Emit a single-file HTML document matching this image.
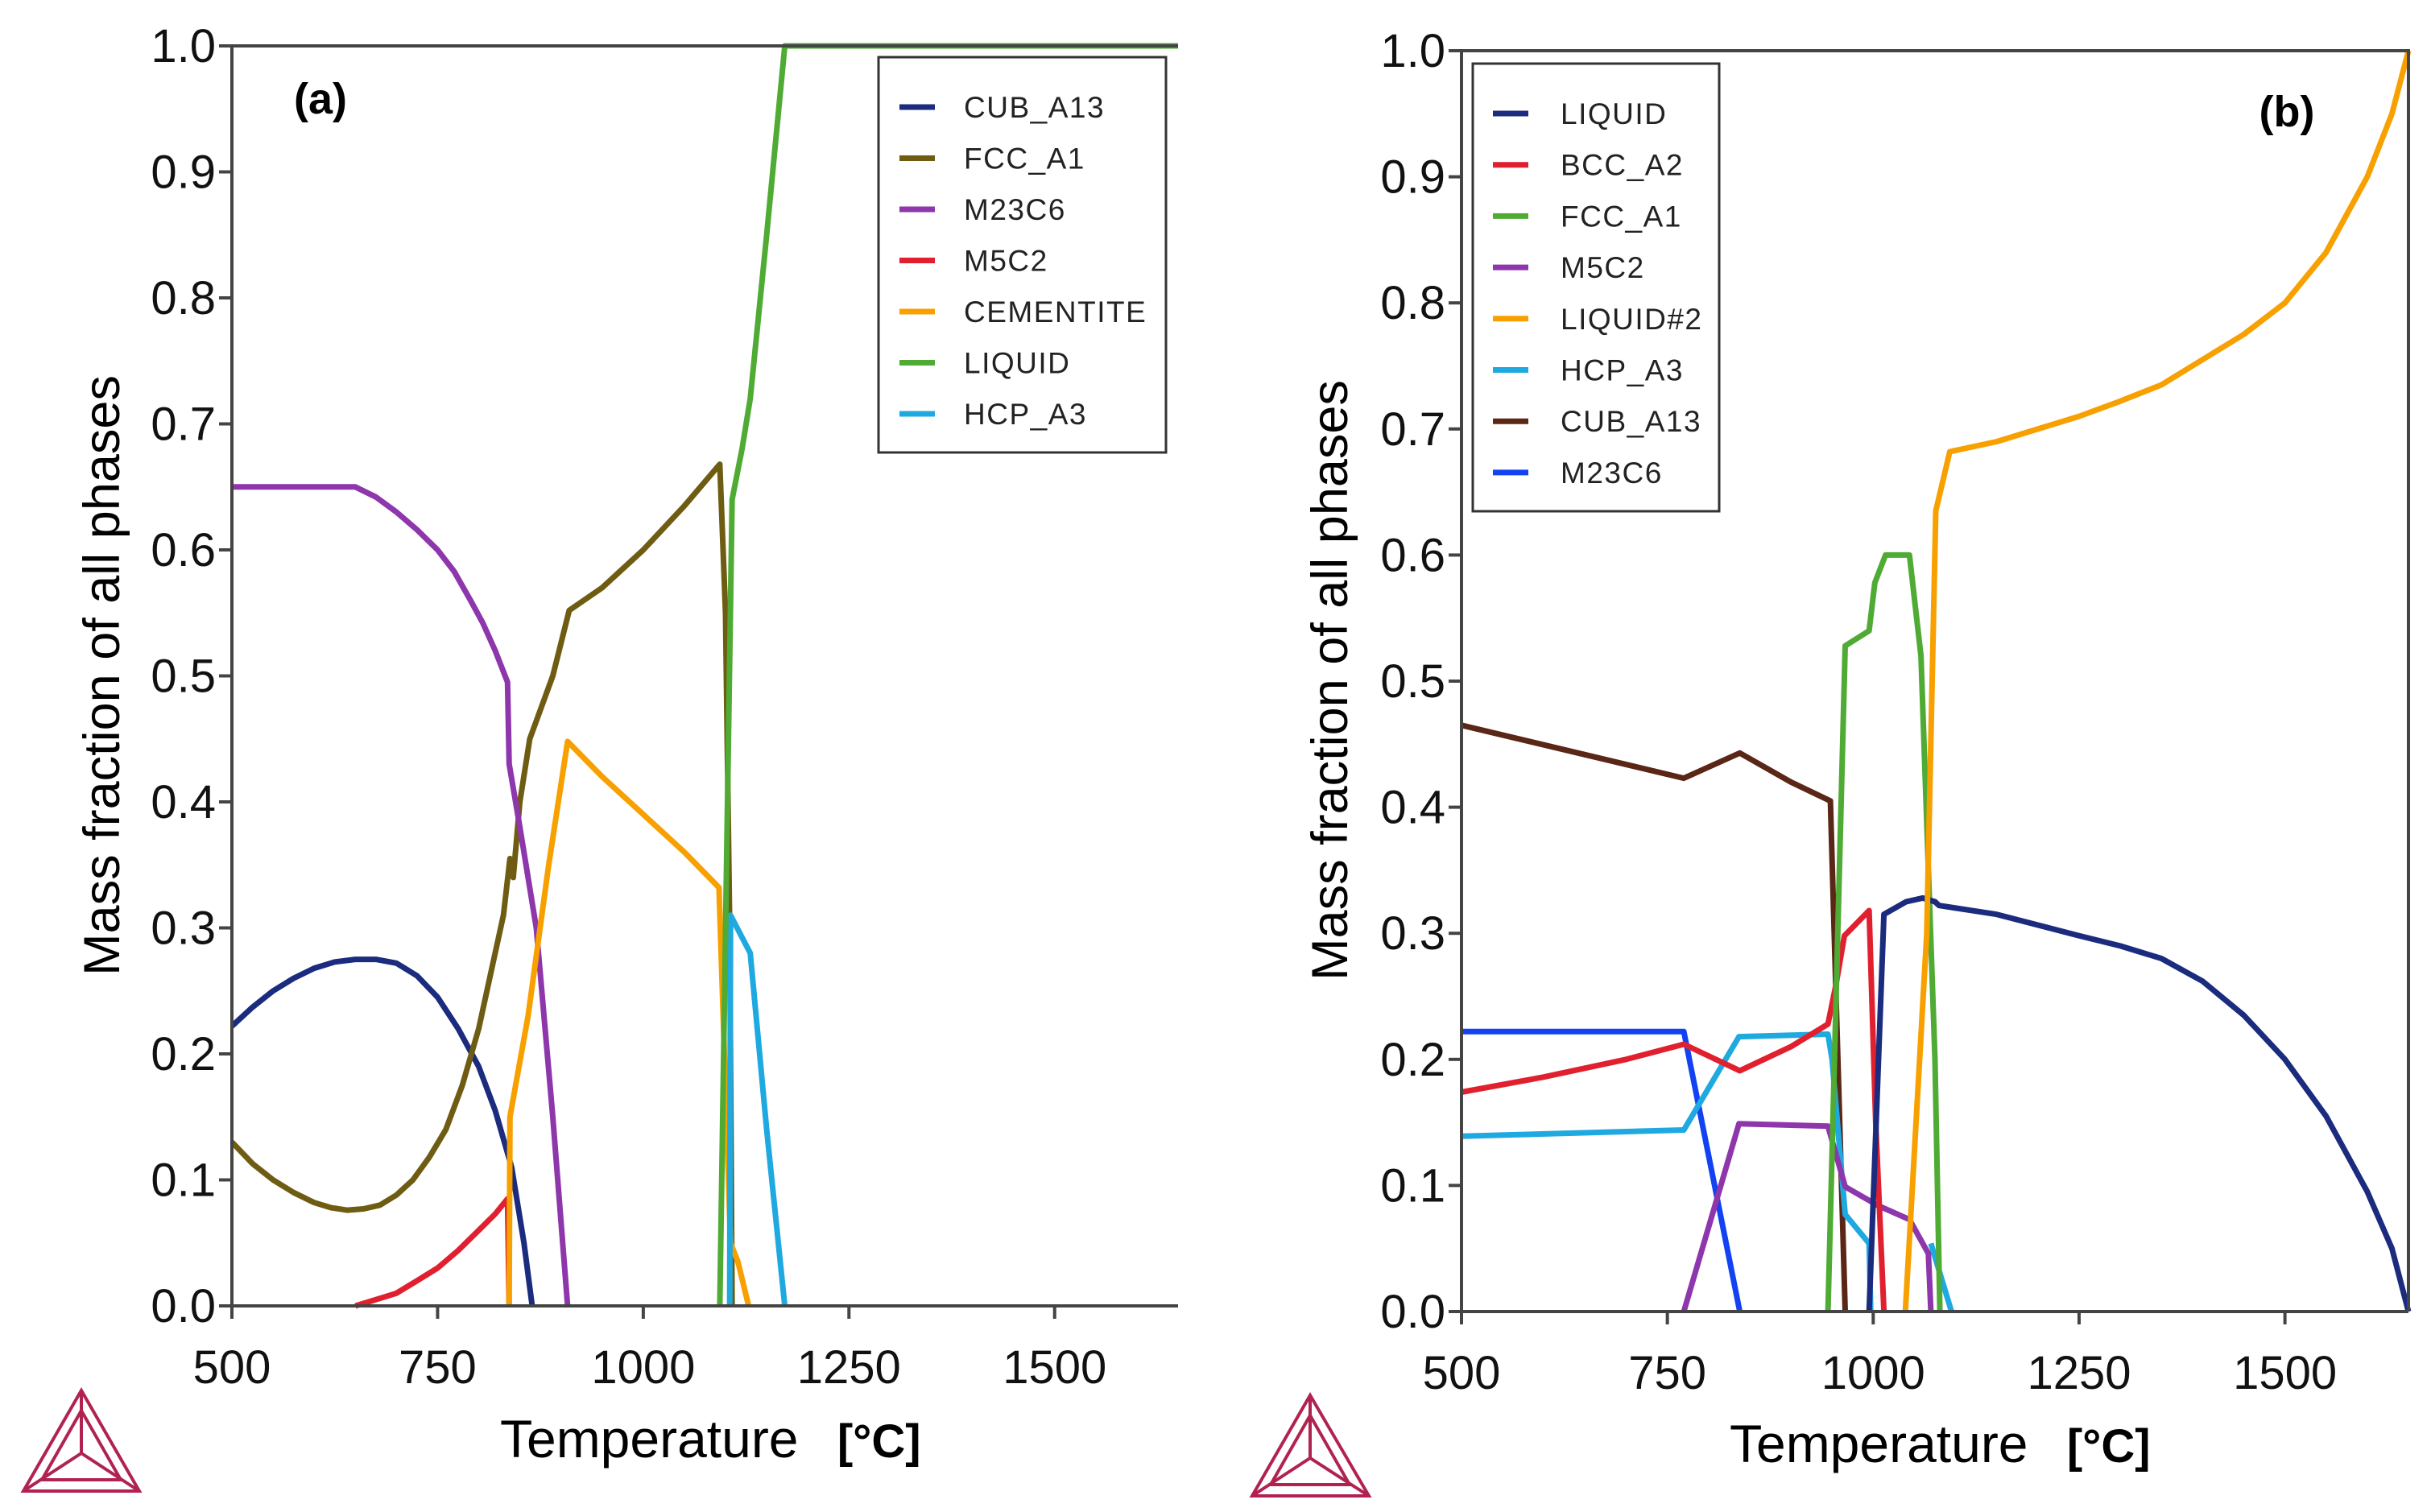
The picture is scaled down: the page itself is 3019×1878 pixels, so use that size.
<!DOCTYPE html>
<html><head><meta charset="utf-8"><style>
html,body{margin:0;padding:0;background:#fff;}
svg{display:block;font-family:"Liberation Sans",Arial,sans-serif;}
</style></head><body>
<svg id="svg" width="3019" height="1878" viewBox="0 0 3019 1878" xmlns="http://www.w3.org/2000/svg">
<g id="pa"></g>
<g id="pb"></g>
</svg>
<script>
// ---------- data: panel (a) ----------
const tempsCub_a=[500,525,550,575,600,625,650,675,700,725,750,775,800,820,840,855,865];
const valsCub_a=[0.222,0.237,0.25,0.26,0.268,0.273,0.275,0.275,0.272,0.262,0.245,0.22,0.19,0.155,0.11,0.05,0];
const tempsFcc_a=[500,525,550,575,600,620,640,660,680,700,720,740,760,780,800,815,830,838,842,850,862,890,910,950,1000,1050,1093,1100,1105,1108];
const valsFcc_a=[0.13,0.113,0.1,0.09,0.082,0.078,0.076,0.077,0.08,0.088,0.1,0.118,0.14,0.175,0.22,0.265,0.31,0.355,0.34,0.4,0.45,0.5,0.552,0.57,0.6,0.635,0.668,0.55,0.3,0];
const tempsM23_a=[500,650,675,700,725,750,770,790,805,820,835,837,850,870,890,908];
const valsM23_a=[0.65,0.65,0.642,0.63,0.616,0.6,0.583,0.56,0.542,0.52,0.495,0.43,0.38,0.3,0.15,0];
const tempsM5_a=[650,675,700,725,750,775,800,820,835,837];
const valsM5_a=[0,0.005,0.01,0.02,0.03,0.044,0.06,0.073,0.085,0];
const tempsCem_a=[837,838,860,885,908,950,1000,1050,1092,1106,1115,1128];
const valsCem_a=[0,0.15,0.23,0.35,0.448,0.42,0.39,0.36,0.332,0.05,0.035,0];
const tempsLiq_a=[1093,1108,1120,1130,1150,1172,1650];
const valsLiq_a=[0,0.64,0.68,0.72,0.85,1.0,1.0];
const tempsHcp_a=[1105,1106,1130,1150,1172];
const valsHcp_a=[0,0.31,0.28,0.14,0];
// ---------- data: panel (b) ----------
const tempsLiq_b=[995,1013,1040,1060,1075,1080,1150,1250,1300,1350,1400,1450,1500,1550,1600,1630,1650];
const valsLiq_b=[0,0.315,0.325,0.328,0.325,0.322,0.315,0.298,0.29,0.28,0.262,0.235,0.2,0.155,0.095,0.05,0];
const tempsBcc_b=[500,600,700,770,838,900,945,955,965,995,1003,1013];
const valsBcc_b=[0.174,0.186,0.2,0.212,0.191,0.21,0.228,0.26,0.298,0.318,0.15,0];
const tempsFcc_b=[945,966,995,1002,1015,1044,1058,1075,1081];
const valsFcc_b=[0,0.528,0.54,0.578,0.6,0.6,0.52,0.2,0];
const tempsM5_b=[770,837,945,966,1006,1044,1067,1070];
const valsM5_b=[0,0.149,0.147,0.099,0.084,0.073,0.046,0];
const tempsLiq2_b=[1039,1065,1076,1093,1150,1250,1300,1350,1400,1450,1500,1550,1600,1630,1650];
const valsLiq2_b=[0,0.3,0.635,0.682,0.69,0.71,0.722,0.735,0.755,0.775,0.8,0.84,0.9,0.95,1.0];
const tempsHcp1_b=[500,770,837,945,950,966,995,997];
const valsHcp1_b=[0.139,0.144,0.218,0.22,0.2,0.077,0.054,0];
const tempsHcp2_b=[1070,1095];
const valsHcp2_b=[0.054,0];
const tempsCub_b=[500,770,838,900,948,966];
const valsCub_b=[0.465,0.423,0.443,0.42,0.405,0];
const tempsM23_b=[500,770,838];
const valsM23_b=[0.222,0.222,0];
// ticks
const xTicks=[500,750,1000,1250,1500];
const yTicks=[0,0.1,0.2,0.3,0.4,0.5,0.6,0.7,0.8,0.9,1.0];
const legendA=["CUB_A13","FCC_A1","M23C6","M5C2","CEMENTITE","LIQUID","HCP_A3"];
const legendB=["LIQUID","BCC_A2","FCC_A1","M5C2","LIQUID#2","HCP_A3","CUB_A13","M23C6"];

const C={navy:"#1b2b7e",olive:"#6e5c12",purple:"#8e36ab",red:"#e1202f",orange:"#f7a000",green:"#4fab33",cyan:"#1fa9e1",brown:"#5a2616",blue:"#1242f2"};
const NS="http://www.w3.org/2000/svg";
function el(tag,attrs,parent){const e=document.createElementNS(NS,tag);for(const k in attrs)e.setAttribute(k,attrs[k]);parent.appendChild(e);return e;}

function panel(g,cfg){
  const xS=t=>cfg.x0+(t-500)/(1650-500)*(cfg.x1-cfg.x0);
  const yS=v=>cfg.y1-v*(cfg.y1-cfg.y0);
  cfg.series.forEach(s=>{
    const d=s.t.map((t,i)=>(i?"L":"M")+xS(t).toFixed(1)+","+yS(s.v[i]).toFixed(1)).join("");
    const p=el("path",{d:d,fill:"none",stroke:s.c,"stroke-width":7,"stroke-linejoin":"round"},g);
    
    
  });
  const ax=el("path",{d:`M${cfg.x0},${cfg.y1+16}V${cfg.y0}M${cfg.x0-16},${cfg.y1}H${cfg.x1}M${cfg.x0-16},${cfg.y0}H${cfg.x1}`+(cfg.right?`V${cfg.y1}`:""),stroke:"#444",fill:"none","stroke-width":4},g);
  
  
  yTicks.forEach(v=>{
    const y=yS(v);
    const tk=el("line",{x1:cfg.x0-16,x2:cfg.x0,y1:y,y2:y,stroke:"#444","stroke-width":4},g);
    
    
    const tx=el("text",{x:cfg.x0-20,y:y+20,"text-anchor":"end","font-size":58,fill:"#111"},g);
    tx.textContent=v.toFixed(1);
    
    
  });
  xTicks.forEach(t=>{
    const x=xS(t);
    const tk=el("line",{x1:x,x2:x,y1:cfg.y1,y2:cfg.y1+16,stroke:"#444","stroke-width":4},g);
    
    
    const tx=el("text",{x:x,y:cfg.y1+96,"text-anchor":"middle","font-size":58,fill:"#111"},g);
    tx.textContent=t;
    
    
  });
  const lg=el("g",{},g);
  
  
  el("rect",{x:cfg.lx0,y:cfg.ly0,width:cfg.lx1-cfg.lx0,height:cfg.ly1-cfg.ly0,fill:"#fff",stroke:"#333","stroke-width":3},lg);
  cfg.legend.forEach((n,i)=>{
    const y=cfg.ly+i*cfg.ldy;
    const ln=el("line",{x1:cfg.llx,x2:cfg.llx+44,y1:y,y2:y,stroke:cfg.lcol[i],"stroke-width":7},lg);
    
    
    const tx=el("text",{x:cfg.ltx,y:y+13,"font-size":37,"letter-spacing":1.5,fill:"#222"},lg);
    tx.textContent=n;
    
    
  });
}

panel(document.getElementById("pa"),{x0:288,x1:1463,y0:57,y1:1622,right:false,
  series:[
   {name:"cub-a13-line",t:tempsCub_a,v:valsCub_a,c:C.navy},
   {name:"fcc-a1-line",t:tempsFcc_a,v:valsFcc_a,c:C.olive},
   {name:"m23c6-line",t:tempsM23_a,v:valsM23_a,c:C.purple},
   {name:"m5c2-line",t:tempsM5_a,v:valsM5_a,c:C.red},
   {name:"cementite-line",t:tempsCem_a,v:valsCem_a,c:C.orange},
   {name:"hcp-a3-line",t:tempsHcp_a,v:valsHcp_a,c:C.cyan},
   {name:"liquid-line",t:tempsLiq_a,v:valsLiq_a,c:C.green}],
  legend:legendA,lcol:[C.navy,C.olive,C.purple,C.red,C.orange,C.green,C.cyan],
  lx0:1091,lx1:1448,ly0:71,ly1:562,ly:133,ldy:63.5,llx:1117,ltx:1197});
panel(document.getElementById("pb"),{x0:1815,x1:2991,y0:63,y1:1629,right:true,
  series:[
   {name:"cub-a13-line",t:tempsCub_b,v:valsCub_b,c:C.brown},
   {name:"m23c6-line",t:tempsM23_b,v:valsM23_b,c:C.blue},
   {name:"hcp-a3-line",t:tempsHcp1_b,v:valsHcp1_b,c:C.cyan},
   {name:"hcp-a3-line-2",t:tempsHcp2_b,v:valsHcp2_b,c:C.cyan},
   {name:"m5c2-line",t:tempsM5_b,v:valsM5_b,c:C.purple},
   {name:"bcc-a2-line",t:tempsBcc_b,v:valsBcc_b,c:C.red},
   {name:"fcc-a1-line",t:tempsFcc_b,v:valsFcc_b,c:C.green},
   {name:"liquid-line",t:tempsLiq_b,v:valsLiq_b,c:C.navy},
   {name:"liquid2-line",t:tempsLiq2_b,v:valsLiq2_b,c:C.orange}],
  legend:legendB,lcol:[C.navy,C.red,C.green,C.purple,C.orange,C.cyan,C.brown,C.blue],
  lx0:1829,lx1:2135,ly0:79,ly1:635,ly:141,ldy:63.7,llx:1854,ltx:1938});
</script>
<svg style="position:absolute;left:0;top:0" width="3019" height="1878" xmlns="http://www.w3.org/2000/svg" font-family="Liberation Sans, Arial, sans-serif">
<text x="398" y="141" font-size="54" font-weight="bold" text-anchor="middle">(a)</text>
<text x="2840" y="157" font-size="54" font-weight="bold" text-anchor="middle">(b)</text>
<text transform="translate(148,839) rotate(-90)" font-size="63" text-anchor="middle">Mass fraction of all phases</text>
<text transform="translate(1673,845) rotate(-90)" font-size="63" text-anchor="middle">Mass fraction of all phases</text>
<text x="621" y="1810" font-size="66">Temperature <tspan dx="30" font-weight="bold" font-size="58">[°C]</tspan></text>
<text x="2148" y="1816" font-size="66">Temperature <tspan dx="30" font-weight="bold" font-size="58">[°C]</tspan></text>
<g fill="none" stroke="#b02350" stroke-width="4">
<path d="M101,1727L29,1852H173Z M101,1727V1805 M29,1852L101,1805L173,1852 M101,1752L52,1838H150Z"/>
</g>
<g fill="none" stroke="#b02350" stroke-width="4">
<path d="M1627,1733L1555,1858H1700Z M1627,1733V1811 M1555,1858L1627,1811L1700,1858 M1627,1758L1578,1844H1676Z"/>
</g>
</svg>
</body></html>
